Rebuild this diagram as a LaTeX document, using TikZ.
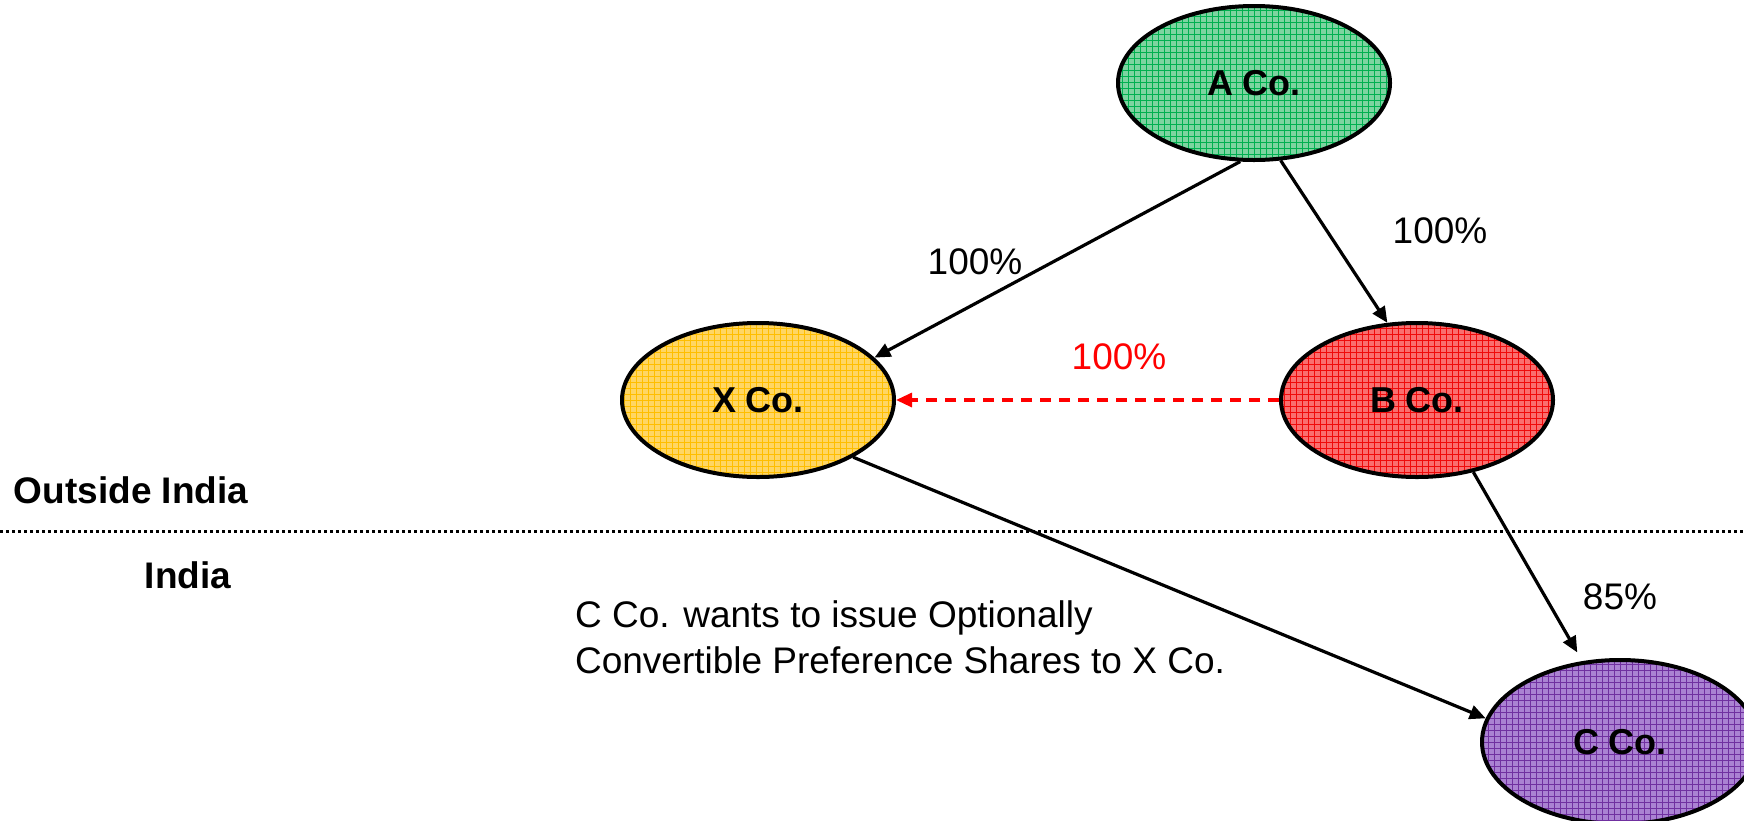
\documentclass[tikz,border=0pt]{standalone}
\usepackage{fontspec}
\setmainfont{Liberation Sans}
\usetikzlibrary{shapes.geometric}
\usetikzlibrary{arrows.meta}
\usetikzlibrary{patterns}

\definecolor{greenbg}{RGB}{125,212,160}
\definecolor{greenln}{RGB}{0,176,80}
\definecolor{yellowbg}{RGB}{255,214,100}
\definecolor{yellowln}{RGB}{255,190,0}
\definecolor{redbg}{RGB}{250,110,110}
\definecolor{redln}{RGB}{240,10,10}
\definecolor{purplebg}{RGB}{170,130,210}
\definecolor{purpleln}{RGB}{112,48,160}

\tikzset{
    company/.style={ellipse, draw, line width=2pt, minimum width=136pt, minimum height=77pt,
        font=\fontsize{18}{20}\selectfont\bfseries,
        preaction={fill=#1bg}, preaction={pattern=grid, pattern color=#1ln}},
    holding/.style={line width=1.6pt, -{Triangle[length=8pt,width=7pt]}},
    share/.style={font=\fontsize{18.5}{21}\selectfont}
}

\begin{document}
\begin{tikzpicture}[x=0.5pt,y=-0.5pt]
    \useasboundingbox (0,0) rectangle (1744,820);
    \node[company=green] (aco) at (1254,83) {A Co.};
    \node[company=yellow] (xco) at (758,400) {X Co.};
    \node[company=red] (bco) at (1417,400) {B Co.};
    \node[company=purple, minimum width=138pt, minimum height=82pt] (cco) at (1620,742) {C Co.};

    \draw[line width=1.5pt, dash pattern=on 1.6pt off 1.4pt] (0,531) coordinate (lft) -- (1744,531) coordinate (rgt);
    \node[font=\fontsize{18.5}{20}\selectfont\bfseries] (outside) at (131,490) {Outside India};
    \node[font=\fontsize{18.5}{20}\selectfont\bfseries] (india) at (188,575) {India};

    \draw[holding] (aco.260) -- (xco.20);
    \draw[holding] (aco.289) -- (bco.111);
    \draw[holding, red, dash pattern=on 5.5pt off 4pt] (bco.west) -- (xco.east);
    \draw[holding] (xco.-31) -- (cco.170);
    \draw[holding, shorten >=5pt] (bco.308) -- (cco.115);

    \node[share] (pxa) at (975,262) {100\%};
    \node[share] (pba) at (1440,231) {100\%};
    \node[share, red] (pxb) at (1119,357) {100\%};
    \node[share] (pcb) at (1620,597) {85\%};
    \node[share, anchor=west, align=left, font=\fontsize{18.5}{23}\selectfont] (note) at (568,637)
        {C Co. wants to issue Optionally\\Convertible Preference Shares to X Co.};
\end{tikzpicture}
\end{document}
